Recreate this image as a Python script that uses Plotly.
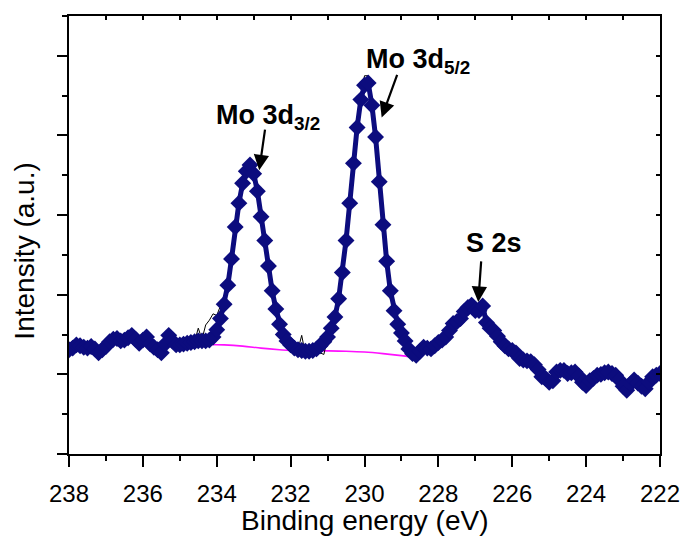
import numpy as np
import plotly.graph_objects as go

# Mo 3d / S 2s core-level XPS spectrum (0.1 eV step, 238 -> 222 eV)
energy = np.round(np.linspace(238.0, 222.0, 161), 1)
intensity = [
    1.31, 1.33, 1.37, 1.36, 1.34, 1.33, 1.35, 1.32, 1.27, 1.31,   # 238.0-237.1
    1.35, 1.41, 1.44, 1.45, 1.42, 1.43, 1.46, 1.49, 1.44, 1.39,   # 237.0-236.1
    1.43, 1.47, 1.38, 1.34, 1.31, 1.27, 1.38, 1.49, 1.42, 1.37,   # 236.0-235.1
    1.37, 1.38, 1.39, 1.40, 1.41, 1.42, 1.42, 1.42, 1.43, 1.47,   # 235.0-234.1
    1.56, 1.70, 1.88, 2.12, 2.45, 2.85, 3.15, 3.40, 3.55, 3.63,   # 234.0-233.1
    3.52, 3.30, 2.98, 2.68, 2.36, 2.05, 1.82, 1.63, 1.50, 1.42,   # 233.0-232.1
    1.37, 1.33, 1.31, 1.30, 1.29, 1.29, 1.30, 1.32, 1.36, 1.41,   # 232.0-231.1
    1.47, 1.58, 1.72, 1.95, 2.28, 2.68, 3.15, 3.65, 4.10, 4.45,   # 231.0-230.1
    4.63, 4.66, 4.38, 3.98, 3.42, 2.88, 2.42, 2.05, 1.80, 1.63,   # 230.0-229.1
    1.52, 1.42, 1.32, 1.26, 1.24, 1.29, 1.34, 1.33, 1.32, 1.36,   # 229.0-228.1
    1.40, 1.43, 1.47, 1.55, 1.64, 1.66, 1.70, 1.79, 1.84, 1.87,   # 228.0-227.1
    1.80, 1.80, 1.86, 1.65, 1.58, 1.55, 1.48, 1.41, 1.36, 1.32,   # 227.0-226.1
    1.30, 1.27, 1.20, 1.18, 1.17, 1.16, 1.12, 1.06, 0.97, 0.95,   # 226.0-225.1
    0.90, 0.92, 1.03, 1.05, 1.05, 1.01, 1.02, 1.03, 0.98, 0.90,   # 225.0-224.1
    0.86, 0.92, 0.95, 0.99, 1.00, 1.02, 1.03, 1.01, 0.99, 0.93,   # 224.0-223.1
    0.85, 0.80, 0.88, 0.93, 0.89, 0.85, 0.82, 0.90, 0.97, 0.99,   # 223.0-222.1
    1.01,                                                         # 222.0
]

# unsmoothed counts across the Mo 3d doublet
raw_energy = np.round(np.linspace(234.8, 228.3, 66), 1)
raw_intensity = [
    1.39, 1.40, 1.41, 1.58, 1.44, 1.62, 1.68, 1.76, 1.74, 1.86,
    1.95, 2.14, 2.45, 2.85, 3.15, 3.40, 3.55, 3.63, 3.52, 3.30,
    2.98, 2.68, 2.36, 2.05, 1.82, 1.63, 1.50, 1.42, 1.37, 1.33,
    1.31, 1.49, 1.25, 1.28, 1.29, 1.28, 1.27, 1.25, 1.45, 1.56,
    1.74, 1.95, 2.28, 2.68, 3.15, 3.65, 4.10, 4.45, 4.75, 4.75,
    4.38, 3.98, 3.42, 2.88, 2.42, 2.05, 1.80, 1.63, 1.52, 1.42,
    1.32, 1.21, 1.24, 1.29, 1.34, 1.33,
]

# Shirley background under the Mo 3d doublet
bg_energy = [234.3, 233.8, 233.3, 232.8, 232.3, 232.0, 231.0, 230.5, 230.0, 229.5, 229.0, 228.75]
bg_intensity = [1.375, 1.37, 1.355, 1.33, 1.31, 1.30, 1.295, 1.29, 1.28, 1.26, 1.235, 1.22]

x_ticks = [238, 236, 234, 232, 230, 228, 226, 224, 222]

NAVY = "#0c0c7e"
FONT = "Liberation Sans, Arial, sans-serif"

fig = go.Figure()
fig.add_trace(go.Scatter(x=bg_energy, y=bg_intensity, mode="lines",
                         line=dict(color="#ff10ff", width=1.6, shape="spline"),
                         hoverinfo="skip"))
fig.add_trace(go.Scatter(x=raw_energy, y=raw_intensity, mode="lines",
                         line=dict(color="black", width=1)))
fig.add_trace(go.Scatter(x=energy, y=intensity, mode="lines+markers",
                         line=dict(color=NAVY, width=5),
                         marker=dict(symbol="diamond", size=13, color=NAVY,
                                     line=dict(width=0)),
                         xaxis="x2", yaxis="y2"))

axis_line = dict(showline=True, linecolor="black", linewidth=1.5,
                 showgrid=False, zeroline=False, automargin=False)

fig.update_layout(
    width=684, height=541,
    margin=dict(l=69, r=24, t=16, b=87, autoexpand=False),
    plot_bgcolor="white", paper_bgcolor="white",
    showlegend=False,
    font=dict(family=FONT, color="black"),
    xaxis=dict(range=[238, 222], tickmode="array", tickvals=x_ticks,
               ticks="outside", ticklen=11, tickwidth=1.5, tickcolor="black",
               minor=dict(dtick=1, tick0=222, ticks="outside", ticklen=5,
                          tickwidth=1.5, tickcolor="black"),
               tickfont=dict(size=24, family=FONT), ticklabelstandoff=6,
               **axis_line),
    yaxis=dict(range=[0, 5.5], tickmode="linear", tick0=0, dtick=1,
               ticks="outside", ticklen=10, tickwidth=1.5, tickcolor="black",
               minor=dict(dtick=0.5, tick0=0, ticks="outside", ticklen=5,
                          tickwidth=1.5, tickcolor="black"),
               showticklabels=False, **axis_line),
    xaxis2=dict(range=[238, 222], overlaying="x", side="top", anchor="y2",
                tickmode="linear", tick0=222, dtick=1, ticks="inside",
                ticklen=4, tickwidth=1.5, tickcolor="black",
                showticklabels=False, **axis_line),
    yaxis2=dict(range=[0, 5.5], overlaying="y", side="right", anchor="x2",
                tickmode="linear", tick0=0, dtick=0.5, ticks="inside",
                ticklen=4, tickwidth=1.5, tickcolor="black",
                showticklabels=False, **axis_line),
)

# axis titles
fig.add_annotation(text="Binding energy (eV)", xref="paper", yref="paper",
                   x=0.5, y=0, xanchor="center", yanchor="middle", yshift=-66,
                   showarrow=False, font=dict(size=28, family=FONT))
fig.add_annotation(text="Intensity (a.u.)", xref="paper", yref="paper",
                   x=0, y=0.462, xanchor="center", yanchor="middle", xshift=-44,
                   textangle=-90, showarrow=False, font=dict(size=28, family=FONT))

# peak labels
label_font = dict(size=27, family=FONT, color="black")
labels = [
    ("<b>Mo 3d<sub>3/2</sub></b>", 234.05, 4.00),
    ("<b>Mo 3d<sub>5/2</sub></b>", 229.99, 4.71),
    ("<b>S 2s</b>", 227.28, 2.45),
]
for text, x0, y0 in labels:
    fig.add_annotation(text=text, x=x0, y=y0, xref="x", yref="y",
                       xanchor="left", yanchor="bottom", showarrow=False,
                       font=label_font, borderpad=0)

# arrows pointing at each peak
arrows = [
    (232.85, 3.564, 6, -42),
    (229.535, 4.226, 16, -44),
    (226.92, 1.91, 3, -42),
]
for x0, y0, dx, dy in arrows:
    fig.add_annotation(text="", x=x0, y=y0, xref="x", yref="y",
                       ax=dx, ay=dy, axref="pixel", ayref="pixel",
                       showarrow=True, arrowhead=2, arrowsize=1.4,
                       arrowwidth=2.2, arrowcolor="black", standoff=0)

fig.write_html("out.html")
